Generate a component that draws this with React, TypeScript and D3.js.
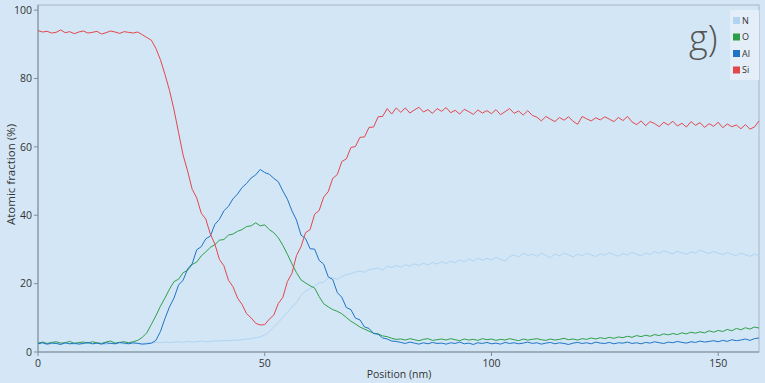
import React from "react";
import * as d3 from "d3";

const positions: number[] = Array.from({ length: 160 }, (_, i) => i);

const siValues: number[] = [
  94.0, 93.6, 93.8, 93.3, 93.5, 94.2, 93.4, 93.7, 93.1, 93.6,
  93.9, 93.3, 93.5, 93.8, 93.0, 93.4, 93.9, 93.6, 93.2, 93.7,
  93.5, 93.3, 93.6, 92.8, 92.0, 91.2, 88.8, 85.5, 81.2, 76.5,
  70.8, 64.2, 57.6, 52.9, 47.6, 45.1, 40.6, 38.9, 34.5, 31.6,
  27.1, 25.2, 21.0, 19.1, 15.8, 13.9, 11.2, 10.0, 8.4, 7.9,
  8.0, 9.6, 10.8, 14.2, 16.0, 20.6, 23.0, 28.2, 30.8, 34.9,
  35.8, 40.3, 41.4, 45.3, 46.9, 50.8, 51.9, 55.7, 56.5, 59.8,
  60.1, 62.8, 62.9, 65.7, 65.8, 68.8, 68.9, 71.2, 69.6, 71.4,
  70.1, 71.4, 69.9, 70.8, 71.6, 70.2, 70.9, 69.8, 71.2, 70.4,
  71.5, 70.0, 70.7, 69.6, 71.0, 70.3, 69.5, 70.8, 69.9, 70.6,
  69.7, 70.9, 69.4, 70.3, 71.2, 69.8, 70.5, 69.3, 70.6, 69.2,
  68.7, 67.6, 68.9, 68.1, 67.4, 68.6, 67.8, 68.8, 67.5, 66.6,
  68.9, 68.2, 67.6, 68.5, 67.9, 68.8, 68.1, 67.4, 68.6, 67.7,
  68.9, 67.3, 66.5, 67.6, 66.2, 67.4, 66.8, 65.9, 67.2, 66.4,
  67.5, 66.1, 66.9, 65.8, 67.4, 66.3, 67.1, 65.7, 66.8, 66.0,
  67.2, 65.6, 66.7, 65.9, 66.4, 65.3, 66.5, 65.2, 65.8, 67.6,
];

const alValues: number[] = [
  2.4, 2.7, 2.3, 2.6, 2.5, 2.2, 2.7, 2.4, 2.6, 2.3,
  2.5, 2.8, 2.4, 2.6, 2.3, 2.7, 2.5, 2.4, 2.8, 2.6,
  2.4, 2.7, 2.5, 2.3, 2.4, 2.6, 3.4, 6.0, 9.8, 13.2,
  15.8, 19.6, 21.0, 24.3, 25.8, 29.9, 30.8, 33.1, 33.9, 37.3,
  38.8, 41.3, 42.6, 44.8, 46.2, 48.1, 49.3, 50.9, 51.8, 53.4,
  52.5, 52.0, 50.8, 49.8, 47.1, 44.7, 41.3, 38.6, 34.2, 33.2,
  30.2, 30.1, 26.8, 25.7, 22.0, 21.2, 17.4, 16.0, 13.0, 12.4,
  9.9, 9.4, 7.3, 6.9, 5.4, 5.2, 4.1, 3.8, 3.2, 3.1,
  2.8, 2.5, 2.9, 2.6, 2.3, 2.7, 2.4, 2.8, 2.5, 2.6,
  2.3, 2.7, 2.5, 2.9, 2.4, 2.6, 2.2, 2.7, 2.5, 2.8,
  2.4, 2.6, 2.3, 2.8, 2.5, 2.7, 2.4, 2.6, 2.9, 2.5,
  2.7, 2.3, 2.6, 2.8, 2.4, 2.7, 2.5, 2.2, 2.6, 2.8,
  2.5, 2.7, 2.4, 2.9, 2.6, 2.5, 2.8, 2.4, 2.7, 2.6,
  2.9, 2.5, 2.7, 2.4, 2.8, 2.6, 3.0, 2.7, 2.5, 2.9,
  2.7, 3.1, 2.8, 2.6, 3.0, 2.8, 3.2, 2.9, 3.1, 3.3,
  3.0, 3.4, 3.1, 3.6, 3.3, 3.5, 3.8, 3.4, 3.9, 4.1,
];

const oValues: number[] = [
  2.6, 2.9, 2.5, 2.8, 3.0, 2.6, 2.7, 3.1, 2.5, 2.8,
  2.9, 2.6, 3.0, 2.7, 2.5, 2.9, 3.2, 2.6, 2.8, 3.0,
  2.7, 3.0, 3.4, 4.3, 5.6, 8.1, 10.6, 13.4, 15.8, 18.4,
  20.6, 21.3, 23.2, 23.9, 25.6, 26.3, 28.1, 29.3, 30.6, 31.4,
  32.7, 32.9, 34.2, 34.5, 35.3, 35.8, 36.7, 36.9, 37.8, 36.9,
  37.2, 35.8, 34.9, 33.4, 31.2, 28.6, 25.8, 23.2, 21.1, 20.2,
  19.4, 18.7, 16.2, 14.1, 13.2, 12.4, 11.9, 11.2, 10.1, 9.0,
  8.2, 7.3, 6.7, 6.1, 5.5, 5.3, 4.7, 4.5, 4.0, 3.7,
  3.8, 3.5, 3.9, 3.6, 3.3, 3.7, 3.9, 3.4, 3.6, 3.8,
  3.5, 3.9, 3.6, 3.3, 3.8, 3.5, 3.7, 3.4, 3.9, 3.6,
  3.8, 3.4, 3.7, 3.5, 3.9, 3.6, 3.3, 3.8, 3.5, 3.7,
  3.9, 3.6, 3.4, 3.8, 3.5, 3.7, 4.0, 3.6, 3.8, 3.5,
  3.9, 3.7, 4.1, 3.8, 4.2, 3.9, 4.3, 4.0, 4.4, 4.2,
  4.6, 4.3, 4.8, 4.5, 4.9, 4.6, 5.1, 4.8, 5.3, 5.0,
  5.4, 5.1, 5.6, 5.3, 5.8, 5.5, 5.9, 5.6, 6.2, 5.8,
  6.3, 6.0, 6.6, 6.2, 6.9, 6.5, 7.1, 6.7, 7.3, 7.0,
];

const nValues: number[] = [
  2.3, 2.5, 2.2, 2.4, 2.6, 2.3, 2.5, 2.4, 2.2, 2.5,
  2.4, 2.6, 2.3, 2.5, 2.4, 2.2, 2.6, 2.4, 2.5, 2.3,
  2.5, 2.4, 2.6, 2.5, 2.7, 2.6, 2.8, 2.7, 2.9, 2.8,
  2.9, 3.0, 2.8, 3.1, 2.9, 3.0, 3.2, 3.0, 3.1, 3.3,
  3.2, 3.4, 3.3, 3.5, 3.4, 3.6, 3.8, 3.9, 4.2, 4.4,
  5.0, 5.9, 7.4, 8.6, 10.1, 11.6, 13.2, 14.4, 16.6, 17.8,
  18.6, 19.3, 20.2, 20.4, 21.6, 21.7, 21.3, 22.1, 22.6, 22.9,
  23.4, 23.7, 23.3, 24.1, 24.3, 24.6, 23.9, 25.1, 24.7, 25.3,
  24.8, 25.5, 25.1, 25.8, 25.3, 26.0, 25.4, 26.2, 25.7, 26.4,
  25.9, 26.6, 26.1, 27.0, 26.4, 27.2, 26.6, 27.5, 26.8, 27.4,
  26.9, 27.7, 27.1, 26.6, 27.9, 28.4, 27.8, 28.9, 28.2, 28.6,
  28.0, 28.9, 28.3, 27.6, 28.7, 28.1, 29.0, 28.4, 27.8, 28.6,
  28.2, 28.9, 28.4, 27.9, 28.7, 28.3, 29.1, 28.5, 28.0, 28.8,
  28.4, 29.2, 28.6, 28.1, 29.0, 28.5, 29.4, 28.8, 29.6, 29.1,
  28.7, 29.5, 29.0, 28.6, 29.3, 28.9, 29.8, 29.2, 28.8, 29.4,
  28.9, 28.5, 29.1, 28.6, 28.2, 28.9, 28.4, 28.0, 28.6, 28.2,
];

const seriesNames: string[] = ["N", "O", "Al", "Si"];
const seriesColors: string[] = ["#b0d4f2", "#2e9f48", "#1f74c6", "#e2474c"];
const seriesData: number[][] = [nValues, oValues, alValues, siValues];

const xTicks: number[] = [0, 50, 100, 150];
const yTicks: number[] = [0, 20, 40, 60, 80, 100];

const W = 765;
const H = 383;
const M = { left: 38, right: 6, top: 5, bottom: 31 };

export default function App() {
  const x = d3.scaleLinear().domain([0, 159]).range([M.left, W - M.right]);
  const y = d3.scaleLinear().domain([0, 101.5]).range([H - M.bottom, M.top]);
  const line = (vals: number[]) =>
    d3
      .line<number>()
      .x((_, i) => x(positions[i]))
      .y((v) => y(v))(vals) || "";

  const font = "'Open Sans', 'Noto Sans', sans-serif";

  return (
    <svg
      width={W}
      height={H}
      style={{ position: "absolute", left: 0, top: 0, display: "block" }}
      fontFamily={font}
    >
      <rect x={0} y={0} width={W} height={H} fill="#d5e7f6" />
      <rect
        x={M.left}
        y={M.top}
        width={W - M.left - M.right}
        height={H - M.top - M.bottom}
        fill="#d3e6f5"
        stroke="#a7b6c4"
        strokeWidth={1}
      />
      <line x1={M.left} x2={M.left} y1={M.top} y2={H - M.bottom} stroke="#7f8c97" />
      <line x1={M.left} x2={W - M.right} y1={H - M.bottom} y2={H - M.bottom} stroke="#7f8c97" />

      {yTicks.map((t) => (
        <g key={"y" + t}>
          <line x1={M.left - 4} x2={M.left} y1={y(t)} y2={y(t)} stroke="#7f8c97" />
          <text x={M.left - 6} y={y(t)} dy="0.35em" textAnchor="end" fontSize={10.5} fill="#333">
            {t}
          </text>
        </g>
      ))}
      {xTicks.map((t) => (
        <g key={"x" + t}>
          <line x1={x(t)} x2={x(t)} y1={H - M.bottom} y2={H - M.bottom + 4} stroke="#7f8c97" />
          <text x={x(t)} y={H - M.bottom + 15} textAnchor="middle" fontSize={10.5} fill="#333">
            {t}
          </text>
        </g>
      ))}

      <text
        transform={`translate(11, ${(M.top + H - M.bottom) / 2 - 4}) rotate(-90)`}
        textAnchor="middle"
        dy="0.35em"
        fontSize={11.5}
        fill="#333"
      >
        Atomic fraction (%)
      </text>
      <text x={399} y={378} textAnchor="middle" fontSize={10.5} fill="#333">
        Position (nm)
      </text>

      {seriesData.map((vals, k) => (
        <path
          key={seriesNames[k]}
          d={line(vals)}
          fill="none"
          stroke={seriesColors[k]}
          strokeWidth={1}
          strokeLinejoin="round"
        />
      ))}

      <text x={689} y={51} fontSize={36} fill="#555" fontWeight={300}>
        g)
      </text>

      <rect x={730} y={10} width={29} height={70} fill="#e3eef8" />
      {seriesNames.map((name, k) => (
        <g key={"lg" + name}>
          <rect x={733} y={17 + k * 16.5} width={7} height={7} fill={seriesColors[k]} />
          <text x={742} y={20.5 + k * 16.5} dy="0.35em" fontSize={9} fill="#333">
            {name}
          </text>
        </g>
      ))}
    </svg>
  );
}
